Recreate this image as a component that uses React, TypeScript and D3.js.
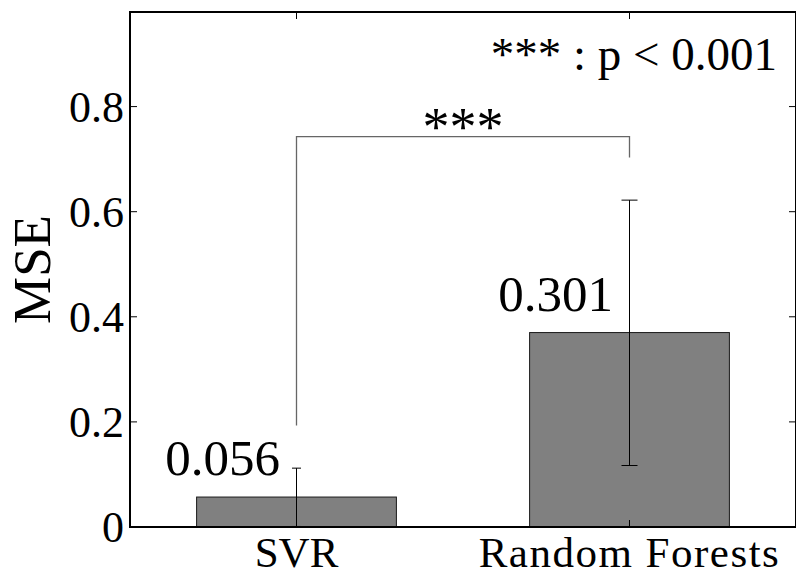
import React from "react";
import * as d3 from "d3";

// data
const categories = ["SVR", "Random Forests"];
const meanMse = [0.057, 0.37];
const errLow = [0.001, 0.117];
const errHigh = [0.112, 0.622];
const valueLabels = ["0.056", "0.301"];
const yTicks = [0, 0.2, 0.4, 0.6, 0.8];
const yTickLabels = ["0", "0.2", "0.4", "0.6", "0.8"];
const bracketTop = 0.743;
const bracketLegs = [0.193, 0.703];
const sigMark = "***";
const sigNote = "*** : p < 0.001";

const W = 796;
const H = 576;
const margin = { top: 12, right: 0, bottom: 49, left: 130 };
const FONT = "'Liberation Serif', 'Times New Roman', serif";
const CAP_WIDTHS = [9, 16];

export default function App() {
  const x = d3
    .scaleLinear()
    .domain([0.5, categories.length + 0.5])
    .range([margin.left, W - margin.right]);
  const y = d3
    .scaleLinear()
    .domain([0, 0.98])
    .range([H - margin.bottom, margin.top]);
  const barW = x(1.6) - x(1);
  const tickLen = 7;
  const [x0, x1] = x.range();
  const [y0, y1] = y.range();
  const bx = [x(1), x(2)];

  return (
    <svg
      width={W}
      height={H}
      style={{ position: "absolute", left: 0, top: 0, background: "#fff" }}
      fontFamily={FONT}
    >
      {/* bars */}
      {categories.map((c, i) => (
        <rect
          key={c}
          x={x(i + 1) - barW / 2}
          y={y(meanMse[i])}
          width={barW}
          height={y(0) - y(meanMse[i])}
          fill="#808080"
          stroke="#1a1a1a"
          strokeWidth={1}
        />
      ))}

      {/* error bars */}
      {categories.map((c, i) => {
        const cx = x(i + 1);
        const cw = CAP_WIDTHS[i] / 2;
        return (
          <g key={c} stroke="#000" strokeWidth={1}>
            <line x1={cx} x2={cx} y1={y(errLow[i])} y2={y(errHigh[i])} />
            <line x1={cx - cw} x2={cx + cw} y1={y(errHigh[i])} y2={y(errHigh[i])} />
            <line x1={cx - cw} x2={cx + cw} y1={y(errLow[i])} y2={y(errLow[i])} />
          </g>
        );
      })}

      {/* value labels */}
      {categories.map((c, i) => (
        <text
          key={c}
          x={x(i + 1) - 74}
          y={y(meanMse[i]) - 22}
          textAnchor="middle"
          fontSize={51}
          fill="#000"
        >
          {valueLabels[i]}
        </text>
      ))}

      {/* significance bracket */}
      <path
        d={`M${bx[0]},${y(bracketLegs[0])}V${y(bracketTop)}H${bx[1]}V${y(bracketLegs[1])}`}
        fill="none"
        stroke="#666"
        strokeWidth={1.3}
      />
      <text
        x={(bx[0] + bx[1]) / 2}
        y={y(bracketTop) + 8}
        textAnchor="middle"
        fontSize={54}
        fill="#000"
      >
        {sigMark}
      </text>
      <text x={777} y={70} textAnchor="end" fontSize={47} fill="#000">
        {sigNote}
      </text>

      {/* axes box */}
      <rect
        x={x0}
        y={y1}
        width={x1 - x0}
        height={y0 - y1}
        fill="none"
        stroke="#000"
        strokeWidth={2}
      />
      {yTicks.map((t, i) => (
        <g key={t}>
          <line x1={x0} x2={x0 + tickLen} y1={y(t)} y2={y(t)} stroke="#000" strokeWidth={1} />
          <line x1={x1} x2={x1 - tickLen} y1={y(t)} y2={y(t)} stroke="#000" strokeWidth={1} />
          <text x={x0 - 6} y={y(t) + 15} textAnchor="end" fontSize={44} fill="#000">
            {yTickLabels[i]}
          </text>
        </g>
      ))}
      {categories.map((c, i) => (
        <g key={c}>
          <line x1={x(i + 1)} x2={x(i + 1)} y1={y1} y2={y1 + tickLen} stroke="#000" strokeWidth={1} />
          <line x1={x(i + 1)} x2={x(i + 1)} y1={y0} y2={y0 - tickLen} stroke="#000" strokeWidth={1} />
          <text
            x={x(i + 1)}
            y={567}
            textAnchor="middle"
            fontSize={43}
            letterSpacing={i === 1 ? 1.5 : 0}
            fill="#000"
          >
            {c}
          </text>
        </g>
      ))}

      {/* y label */}
      <text
        transform={`translate(50,${(y0 + y1) / 2}) rotate(-90)`}
        textAnchor="middle"
        fontSize={53}
        fill="#000"
      >
        MSE
      </text>
    </svg>
  );
}
